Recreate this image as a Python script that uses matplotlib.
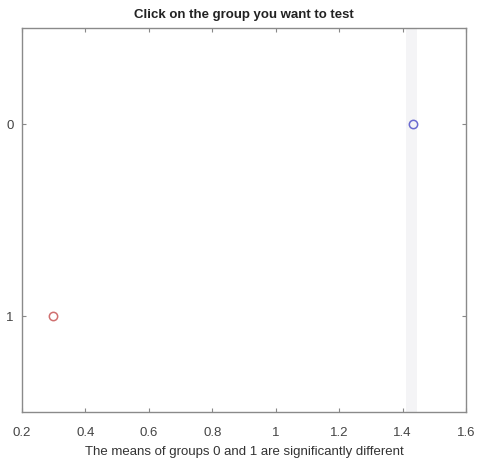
import matplotlib
matplotlib.use("Agg")
import matplotlib.pyplot as plt

plt.rcParams["font.family"] = ["Liberation Sans", "DejaVu Sans"]

# group means (x) and group positions (y)
groups = ["0", "1"]
means = [1.433, 0.298]
group_pos = [0, 1]
colors = ["#6a6ad0", "#d07070"]
band = (1.41, 1.445)  # faint comparison interval of the selected group

x_ticks = [0.2, 0.4, 0.6, 0.8, 1.0, 1.2, 1.4, 1.6]
x_labels = ["0.2", "0.4", "0.6", "0.8", "1", "1.2", "1.4", "1.6"]

fig = plt.figure(figsize=(4.78, 4.64), dpi=100, facecolor="white")
ax = fig.add_axes([0.046, 0.110, 0.929, 0.8275])

ax.axvspan(band[0], band[1], color="#f4f4f6", zorder=0, lw=0)
for m, p, c in zip(means, group_pos, colors):
    ax.plot([m], [p], marker="o", ms=6, mfc="none", mec=c, mew=1.1, ls="none")

ax.set_xlim(0.2, 1.6)
ax.set_ylim(1.5, -0.5)
ax.set_xticks(x_ticks)
ax.set_xticklabels(x_labels)
ax.set_yticks(group_pos)
ax.set_yticklabels(groups)
ax.tick_params(direction="in", length=3, width=0.8, color="#888888",
               labelsize=9.5, labelcolor="#444444", top=True, right=True, pad=10)
ax.tick_params(axis="y", pad=6)
for s in ax.spines.values():
    s.set_color("#8a8a8a")
    s.set_linewidth(1.0)

ax.set_title("Click on the group you want to test", fontsize=9.5, fontweight="bold",
             color="#222222", pad=8)
ax.set_xlabel("The means of groups 0 and 1 are significantly different",
              fontsize=9.5, color="#333333", labelpad=5)

fig.savefig("out.png", dpi=100, facecolor=fig.get_facecolor())
